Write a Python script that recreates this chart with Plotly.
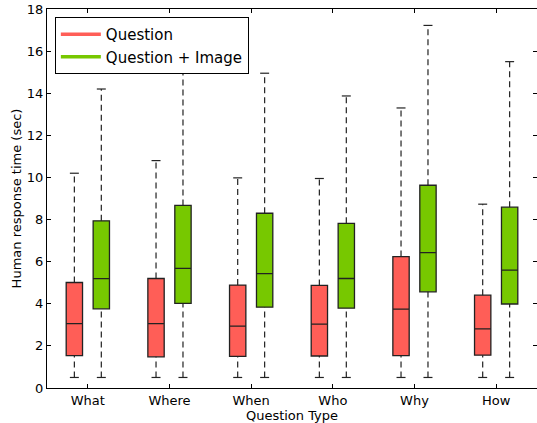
import plotly.graph_objects as go

categories = ["What", "Where", "When", "Who", "Why", "How"]

# Question only
q_low = [0.5, 0.5, 0.5, 0.5, 0.5, 0.5]
q_q1 = [1.54, 1.48, 1.50, 1.52, 1.54, 1.56]
q_med = [3.06, 3.06, 2.94, 3.03, 3.75, 2.81]
q_q3 = [5.01, 5.20, 4.89, 4.87, 6.24, 4.41]
q_high = [10.2, 10.8, 9.98, 9.95, 13.3, 8.73]

# Question + Image
qi_low = [0.5, 0.5, 0.5, 0.5, 0.5, 0.5]
qi_q1 = [3.76, 4.02, 3.84, 3.79, 4.57, 3.99]
qi_med = [5.19, 5.68, 5.43, 5.20, 6.43, 5.60]
qi_q3 = [7.94, 8.67, 8.30, 7.82, 9.63, 8.59]
qi_high = [14.2, 15.65, 14.95, 13.87, 17.22, 15.5]

RED = "#ff5e57"
GREEN = "#77c800"
EDGE = "#222222"
OFFSET = 0.165
BOX_W = 0.2
CAP = 0.055

fig = go.Figure()

def add_series(name, color, low, q1, med, q3, high, shift, group):
    pos = [i + shift for i in range(len(categories))]
    wx, wy, cx, cy = [], [], [], []
    for p, lo, a, b, hi in zip(pos, low, q1, q3, high):
        wx += [p, p, None, p, p, None]
        wy += [lo, a, None, b, hi, None]
        cx += [p - CAP, p + CAP, None, p - CAP, p + CAP, None]
        cy += [lo, lo, None, hi, hi, None]
    fig.add_trace(go.Scatter(x=wx, y=wy, mode="lines", showlegend=False,
                             line=dict(color=EDGE, width=1.2, dash="6px,4px"),
                             hoverinfo="skip"))
    fig.add_trace(go.Scatter(x=cx, y=cy, mode="lines", showlegend=False,
                             line=dict(color=EDGE, width=1.2), hoverinfo="skip"))
    fig.add_trace(go.Box(x=pos, q1=q1, median=med, q3=q3,
                         lowerfence=q1, upperfence=q3, width=BOX_W,
                         fillcolor=color, line=dict(color=EDGE, width=1.3),
                         whiskerwidth=0, showlegend=False, boxpoints=False,
                         name=name))
    fig.add_trace(go.Scatter(x=[None], y=[None], mode="lines", name=name,
                             legendgroup=group,
                             line=dict(color=color, width=3.5)))

add_series("Question", RED, q_low, q_q1, q_med, q_q3, q_high, -OFFSET, "q")
add_series("Question + Image", GREEN, qi_low, qi_q1, qi_med, qi_q3, qi_high, OFFSET, "qi")

axis_common = dict(showline=True, linecolor="black", linewidth=1, mirror="allticks",
                   ticks="inside", ticklen=4, tickcolor="black", showgrid=False,
                   zeroline=False, tickfont=dict(size=13, color="black"))

fig.update_layout(
    width=537, height=423,
    margin=dict(l=47, r=0, t=9, b=35),
    paper_bgcolor="white", plot_bgcolor="white",
    font=dict(family="DejaVu Sans", size=13, color="black"),
    xaxis=dict(range=[-0.5, 5.5], tickmode="array",
               tickvals=list(range(len(categories))), ticktext=categories,
               title=dict(text="Question Type", font=dict(size=13), standoff=4),
               automargin=False, **axis_common),
    yaxis=dict(range=[0, 18], dtick=2,
               title=dict(text="Human response time (sec)", font=dict(size=13), standoff=2),
               automargin=False, **axis_common),
    legend=dict(x=0.016, y=0.979, xanchor="left", yanchor="top",
                bgcolor="white", bordercolor="black", borderwidth=1,
                font=dict(size=15), itemwidth=40, tracegroupgap=0),
)

fig.write_html("out.html", config={"displayModeBar": False},
               post_script="document.body.style.margin='0';document.body.style.overflow='hidden';")
